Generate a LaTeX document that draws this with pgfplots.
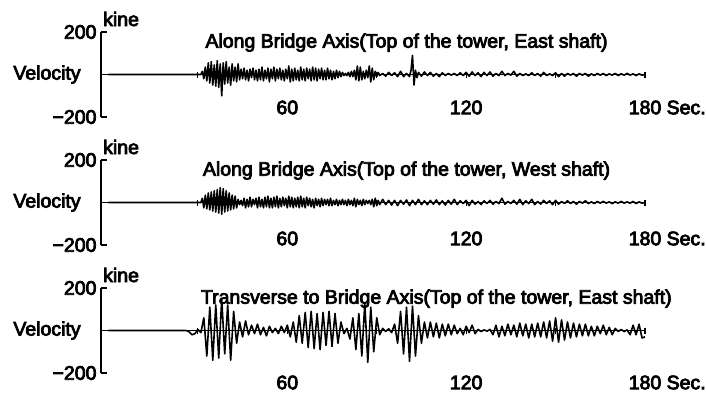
\documentclass[border=0pt]{standalone}
\usepackage{pgfplots}
\pgfplotsset{compat=1.18}
\usepackage{fontspec}
\setmainfont{Liberation Sans}[FakeBold=4]
\pgfplotsset{
  seis/.style={
    scale only axis, width=544pt, height=85pt,
    xmin=-2.5, xmax=180, ymin=-200, ymax=200,
    axis x line=middle, axis y line=left,
    axis line style={-, line width=1.3pt, black},
    every tick/.style={black, line width=1.2pt},
    xtick={30,60,...,180},
    xticklabels={,60,,120,,180\rlap{ Sec.}},
    ytick={-200,200}, yticklabels={−200,200},
    xtick align=center, ytick align=inside,
    major tick length=6pt,
    yticklabel style={anchor=east, xshift=-1pt},
    clip=false,
    anchor=south west,
  },
  sig/.style={black, no marks, line width=1.6pt, line join=round},
}
\begin{document}
\begin{tikzpicture}[font=\fontsize{19.5}{23}\selectfont]
\useasboundingbox (-101pt,-280pt) rectangle (605pt,117pt);
% ---------- panel 1
\begin{axis}[seis, at={(0pt,0pt)}, xticklabel style={anchor=center, yshift=-30pt}]
\addplot[sig] table[row sep=\\] {
t v\\
0 0\\ 31 0\\ 31.5 15\\ 32 -20\\ 32.5 35\\ 33 -30\\ 33.5 55\\ 34 -40\\ 34.5 60\\ 35 -50\\ 35.5 45\\ 36 -55\\ 36.5 65\\ 37 -60\\ 37.5 50\\ 38 -100\\ 38.5 55\\ 39 -45\\ 39.5 60\\ 40 -40\\ 40.5 35\\ 41 -50\\ 41.5 50\\ 42 -30\\ 42.5 35\\ 43 -35\\ 43.5 50\\ 44 -25\\
44.5 25\\ 45 -20\\ 45.5 30\\ 46 -25\\ 46.5 20\\ 47 -30\\ 47.5 25\\ 48 -15\\ 48.5 30\\ 49 -25\\ 49.5 20\\ 50 -30\\ 50.5 25\\ 51 -25\\ 51.5 35\\ 52 -30\\ 52.5 20\\ 53 -20\\ 53.5 30\\ 54 -35\\ 54.5 25\\ 55 -20\\ 55.5 35\\ 56 -30\\ 56.5 25\\ 57 -20\\ 57.5 30\\ 58 -25\\ 58.5 20\\ 59 -30\\ 59.5 25\\ 60 -20\\ 60.5 40\\ 61 -35\\ 61.5 25\\ 62 -30\\ 62.5 30\\ 63 -25\\ 63.5 20\\ 64 -30\\ 64.5 35\\ 65 -25\\ 65.5 25\\ 66 -30\\ 66.5 30\\ 67 -20\\ 67.5 25\\ 68 -30\\ 68.5 35\\ 69 -25\\ 69.5 30\\ 70 -30\\ 70.5 25\\ 71 -20\\ 71.5 30\\ 72 -25\\ 72.5 20\\ 73 -25\\ 73.5 30\\ 74 -20\\ 74.5 20\\ 75 -25\\ 75.5 15\\ 76 -20\\ 76.5 20\\ 77 -15\\ 77.5 15\\ 78 -10\\ 78.5 10\\ 79 -5\\ 79.5 5\\ 80 -5\\
80.5 10\\ 81 -10\\ 81.5 15\\ 82 -10\\ 82.5 20\\ 83 -25\\ 83.5 40\\ 84 -30\\ 84.5 35\\ 85 -25\\ 85.5 15\\ 86 -20\\ 86.5 20\\ 87 -15\\ 87.5 40\\ 88 -35\\ 88.5 30\\ 89 -25\\ 89.5 15\\ 90 -10\\ 90.5 10\\ 91 -5\\ 92 5\\ 93 -8\\ 94 10\\ 95 -5\\ 96 8\\ 97 -10\\ 98 15\\ 99 -10\\ 100 5\\ 101 -10\\ 101.5 20\\ 102 90\\ 102.5 -50\\ 103 20\\ 103.5 -15\\ 104 10\\ 105 -8\\ 106 12\\ 107 -5\\ 108 10\\ 109 -8\\ 110 5\\ 111 -10\\ 112 8\\ 113 -5\\ 114 5\\ 115 -3\\ 116 5\\ 117 -5\\ 118 8\\ 119 -5\\ 120 10\\ 121 -8\\ 122 12\\ 123 -5\\ 124 8\\ 125 -10\\ 126 10\\ 127 -5\\ 128 12\\ 129 -8\\ 130 5\\ 131 -5\\ 132 15\\ 133 -5\\ 134 5\\ 135 -3\\ 136 15\\ 137 -8\\ 138 5\\ 139 -5\\ 140 3\\ 141 -5\\ 142 8\\ 143 -5\\ 144 5\\ 145 -8\\ 146 10\\ 147 -5\\ 148 3\\ 149 -5\\ 150 8\\ 151 -10\\ 152 5\\ 153 -8\\ 154 5\\ 155 -3\\ 156 5\\ 157 -8\\ 158 5\\ 159 -3\\ 160 5\\ 161 -8\\ 162 3\\ 163 -5\\ 164 5\\ 165 -3\\ 166 5\\ 167 -5\\ 168 3\\ 169 -3\\ 170 5\\ 171 -5\\ 172 3\\ 173 -3\\ 174 5\\ 175 -3\\ 176 3\\ 177 -5\\ 178 3\\ 179 -3\\ 180 0\\
};
\node at (axis cs:100,150) {Along Bridge Axis(Top of the tower, East shaft)};
\node[anchor=base west, inner sep=0pt] at ([xshift=2pt,yshift=6pt]rel axis cs:0,1) {kine};
\node at ([xshift=-54pt]rel axis cs:0,0.5) {Velocity};
\end{axis}
% ---------- panel 2
\begin{axis}[seis, at={(0pt,-128pt)}, xticklabel style={anchor=center, yshift=-33pt}]
\addplot[sig] table[row sep=\\] {
t v\\
0 0\\ 31 0\\ 31.5 20\\ 32 -25\\ 32.5 35\\ 33 -30\\ 33.5 45\\ 34 -35\\ 34.5 50\\ 35 -40\\ 35.5 55\\ 36 -45\\ 36.5 60\\ 37 -50\\ 37.5 70\\ 38 -55\\ 38.5 65\\ 39 -45\\ 39.5 55\\ 40 -40\\ 40.5 45\\ 41 -35\\ 41.5 35\\ 42 -30\\ 42.5 30\\ 43 -25\\ 43.5 15\\ 44 -10\\ 44.5 10\\ 45 -15\\ 45.5 20\\ 46 -25\\ 46.5 15\\ 47 -20\\ 47.5 25\\ 48 -20\\ 48.5 15\\ 49 -10\\ 49.5 20\\ 50 -25\\ 50.5 25\\ 51 -20\\ 51.5 15\\ 52 -25\\ 52.5 25\\ 53 -20\\ 53.5 30\\ 54 -25\\ 54.5 20\\ 55 -25\\ 55.5 25\\ 56 -20\\ 56.5 30\\ 57 -25\\ 57.5 20\\ 58 -20\\ 58.5 25\\ 59 -15\\ 59.5 20\\ 60 -25\\ 60.5 30\\ 61 -20\\ 61.5 25\\ 62 -25\\ 62.5 20\\ 63 -20\\ 63.5 25\\ 64 -25\\ 64.5 30\\ 65 -20\\ 65.5 20\\ 66 -25\\ 66.5 25\\ 67 -15\\ 67.5 20\\ 68 -20\\ 68.5 15\\ 69 -25\\ 69.5 20\\ 70 -15\\ 70.5 15\\ 71 -20\\ 71.5 20\\ 72 -15\\ 72.5 15\\ 73 -10\\ 73.5 15\\ 74 -15\\ 74.5 20\\ 75 -15\\ 75.5 10\\ 76 -10\\ 76.5 15\\ 77 -15\\ 77.5 10\\ 78 -10\\ 78.5 15\\ 79 -10\\ 79.5 10\\ 80 -15\\ 80.5 15\\ 81 -10\\ 81.5 10\\ 82 -15\\ 82.5 20\\ 83 -20\\ 83.5 15\\ 84 -10\\ 84.5 10\\ 85 -15\\ 85.5 15\\ 86 -10\\ 86.5 10\\ 87 -5\\ 87.5 10\\ 88 -10\\ 88.5 15\\ 89 -20\\ 89.5 20\\ 90 -15\\ 90.5 10\\ 91 -10\\ 92 15\\ 93 -10\\ 94 10\\ 95 -12\\ 96 10\\ 97 -15\\ 98 10\\ 99 -8\\ 100 12\\ 101 -15\\ 102 10\\ 103 -10\\ 104 15\\ 105 -10\\ 106 8\\ 107 -10\\ 108 10\\ 109 -8\\ 110 12\\ 111 -10\\ 112 8\\ 113 -12\\ 114 10\\ 115 -8\\ 116 15\\ 117 -10\\ 118 8\\ 119 -5\\ 120 10\\ 121 -15\\ 122 10\\ 123 -8\\ 124 5\\ 125 -10\\ 126 8\\ 127 -5\\ 128 10\\ 129 -8\\ 130 5\\ 131 -5\\ 132 20\\ 133 -8\\ 134 5\\ 135 -5\\ 136 10\\ 137 -8\\ 138 15\\ 139 -10\\ 140 8\\ 141 -5\\ 142 15\\ 143 -10\\ 144 5\\ 145 -8\\ 146 10\\ 147 -5\\ 148 8\\ 149 -10\\ 150 10\\ 151 -8\\ 152 5\\ 153 -5\\ 154 8\\ 155 -5\\ 156 5\\ 157 -8\\ 158 5\\ 159 -3\\ 160 8\\ 161 -5\\ 162 3\\ 163 -5\\ 164 5\\ 165 -3\\ 166 5\\ 167 -3\\ 168 3\\ 169 -5\\ 170 3\\ 171 -3\\ 172 5\\ 173 -3\\ 174 3\\ 175 -3\\ 176 5\\ 177 -5\\ 178 3\\ 179 -3\\ 180 0\\
};
\node at (axis cs:100,150) {Along Bridge Axis(Top of the tower, West shaft)};
\node[anchor=base west, inner sep=0pt] at ([xshift=2pt,yshift=6pt]rel axis cs:0,1) {kine};
\node at ([xshift=-54pt]rel axis cs:0,0.5) {Velocity};
\end{axis}
% ---------- panel 3
\begin{axis}[seis, at={(0pt,-256pt)}, xticklabel style={anchor=center, yshift=-49pt}]
\addplot[sig] table[row sep=\\] {
t v\\
0 0\\ 26 0\\ 27 -5\\ 28 -20\\ 29 -15\\ 30 5\\ 31 -10\\
32 60\\ 33 -120\\ 34 110\\ 35 -140\\ 36 120\\ 37 -130\\ 38 150\\ 39 -110\\ 40 120\\ 41 -140\\ 42 90\\ 43 -60\\
44 40\\ 45 -30\\ 46 45\\ 47 -20\\ 48 25\\ 49 -15\\ 50 30\\ 51 -20\\ 52 15\\ 53 -25\\ 54 20\\ 55 -10\\ 56 10\\ 57 -15\\ 58 20\\ 59 -10\\ 60 25\\ 61 -30\\
62 40\\ 63 -55\\ 64 70\\ 65 -60\\ 66 85\\ 67 -80\\ 68 90\\ 69 -85\\ 70 80\\ 71 -90\\ 72 85\\ 73 -70\\ 74 90\\ 75 -75\\ 76 80\\ 77 -60\\ 78 40\\ 79 -15\\ 80 10\\
81 -40\\ 82 60\\ 83 -90\\ 84 80\\ 85 -120\\ 86 130\\ 87 -150\\ 88 110\\ 89 -100\\ 90 60\\ 91 -20\\
92 10\\ 93 -5\\ 94 8\\ 95 -10\\ 96 30\\
97 -60\\ 98 90\\ 99 -110\\ 100 110\\ 101 -145\\ 102 115\\ 103 -120\\ 104 70\\ 105 -60\\ 106 40\\
107 -35\\ 108 40\\ 109 -30\\ 110 35\\ 111 -35\\ 112 30\\ 113 -25\\ 114 30\\ 115 -20\\ 116 25\\ 117 -15\\ 118 10\\ 119 -20\\ 120 20\\ 121 -10\\ 122 25\\ 123 -15\\ 124 5\\ 125 -5\\ 126 3\\ 127 -3\\ 128 5\\ 129 -20\\ 130 25\\ 131 -30\\ 132 20\\ 133 -25\\ 134 30\\ 135 -20\\ 136 25\\ 137 -30\\ 138 35\\ 139 -25\\ 140 30\\ 141 -35\\ 142 30\\ 143 -30\\ 144 35\\ 145 -30\\ 146 40\\ 147 -35\\ 148 45\\ 149 -50\\ 150 60\\ 151 -55\\ 152 50\\ 153 -45\\ 154 40\\ 155 -35\\ 156 35\\ 157 -30\\ 158 30\\ 159 -25\\ 160 30\\ 161 -25\\ 162 20\\ 163 -25\\ 164 20\\ 165 -15\\ 166 25\\ 167 -20\\ 168 15\\ 169 -20\\ 170 10\\ 171 -5\\ 172 5\\ 173 -5\\ 174 3\\ 175 -20\\ 176 25\\ 177 -20\\ 178 30\\ 179 -35\\ 180 -30\\
};
\node at (axis cs:110,150) {Transverse to Bridge Axis(Top of the tower, East shaft)};
\node[anchor=base west, inner sep=0pt] at ([xshift=2pt,yshift=6pt]rel axis cs:0,1) {kine};
\node at ([xshift=-54pt]rel axis cs:0,0.5) {Velocity};
\end{axis}
\end{tikzpicture}
\end{document}
